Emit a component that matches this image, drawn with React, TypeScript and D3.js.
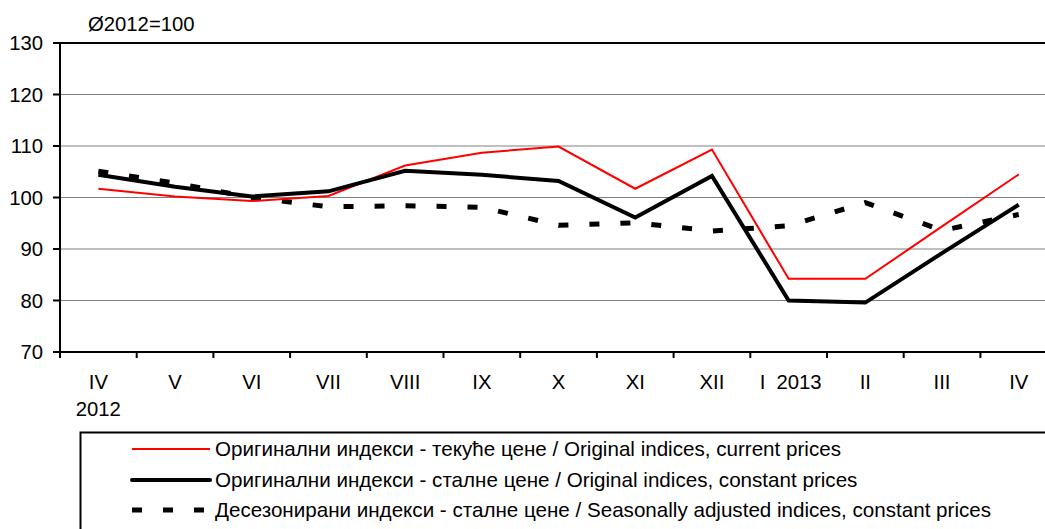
import React from "react";
import * as d3 from "d3";

const categories = ["IV", "V", "VI", "VII", "VIII", "IX", "X", "XI", "XII", "I", "II", "III", "IV "];
const tickLabels = ["IV", "V", "VI", "VII", "VIII", "IX", "X", "XI", "XII", "I  2013", "II", "III", "IV"];
const currentPrices = [101.7, 100.2, 99.3, 100.3, 106.2, 108.7, 109.9, 101.7, 109.3, 84.2, 84.2, 94.4, 104.5];
const constantPrices = [104.4, 102.1, 100.2, 101.2, 105.2, 104.4, 103.2, 96.1, 104.2, 80.0, 79.6, 89.2, 98.6];
const seasAdjusted = [105.1, 102.8, 100.0, 98.2, 98.4, 98.1, 94.6, 95.1, 93.5, 94.5, 99.0, 93.6, 96.7];
const yTicks = [70, 80, 90, 100, 110, 120, 130];
const legendLabels = [
  "Оригинални индекси - текуће цене / Original indices, current prices",
  "Оригинални индекси - сталне цене / Original indices, constant prices",
  "Десезонирани индекси - сталне цене / Seasonally adjusted indices, constant prices",
];

export default function App() {
  const W = 1045, H = 529;
  const left = 60, step = 76.7;
  const x = d3.scaleBand<string>().domain(categories).range([left, left + step * categories.length]);
  const y = d3.scaleLinear().domain([70, 130]).range([352, 43]);
  const cx = (i: number) => (x(categories[i]) as number) + x.bandwidth() / 2;
  const line = d3.line<number>().x((_, i) => cx(i)).y((d) => y(d));
  const font = "'Liberation Sans', Arial, sans-serif";
  const right = left + step * categories.length;
  const fs = 20.3;
  const lfs = 20.6;

  return (
    <svg width={W} height={H} style={{ position: "absolute", left: 0, top: 0, background: "#fff" }} fontFamily={font}>
      <rect x={0} y={0} width={W} height={H} fill="#fff" />
      {yTicks.slice(1, -1).map((t) => (
        <line key={t} x1={left} x2={right} y1={y(t)} y2={y(t)} stroke="#808080" strokeWidth={1.2} />
      ))}
      <line x1={left} x2={right} y1={y(130)} y2={y(130)} stroke="#000" strokeWidth={2} />
      <line x1={left} x2={right} y1={y(70)} y2={y(70)} stroke="#000" strokeWidth={2} />
      <line x1={left} x2={left} y1={y(130)} y2={y(70)} stroke="#000" strokeWidth={2} />
      {yTicks.map((t) => (
        <g key={t}>
          <line x1={left - 7} x2={left} y1={y(t)} y2={y(t)} stroke="#000" strokeWidth={2} />
          <text x={43} y={y(t) + 7} textAnchor="end" fontSize={fs} fill="#000">{t}</text>
        </g>
      ))}
      {categories.map((c, i) => (
        <line key={"t" + i} x1={(x(c) as number)} x2={(x(c) as number)} y1={y(70)} y2={y(70) + 6} stroke="#000" strokeWidth={2} />
      ))}
      <line x1={right} x2={right} y1={y(70)} y2={y(70) + 6} stroke="#000" strokeWidth={2} />
      {tickLabels.map((l, i) => (
        <text key={"l" + i} x={cx(i) + (i === 9 ? 2 : 0)} y={389} textAnchor="middle" fontSize={fs} fill="#000" style={{ whiteSpace: "pre" }}>{l}</text>
      ))}
      <text x={cx(0)} y={416} textAnchor="middle" fontSize={fs} fill="#000">2012</text>
      <text x={88} y={31} fontSize={fs} fill="#000">Ø2012=100</text>

      <path d={line(seasAdjusted) || ""} fill="none" stroke="#000" strokeWidth={5} strokeDasharray="10,21" />
      <path d={line(currentPrices) || ""} fill="none" stroke="#ff0000" strokeWidth={2} />
      <path d={line(constantPrices) || ""} fill="none" stroke="#000" strokeWidth={4} />

      <rect x={80.5} y={432.5} width={1000} height={120} fill="none" stroke="#000" strokeWidth={2} />
      <line x1={132} x2={210} y1={449} y2={449} stroke="#ff0000" strokeWidth={2} />
      <line x1={132} x2={210} y1={480} y2={480} stroke="#000" strokeWidth={4} strokeLinecap="round" />
      <line x1={132} x2={210} y1={510} y2={510} stroke="#000" strokeWidth={5} strokeDasharray="10,21" />
      {legendLabels.map((l, i) => (
        <text key={"g" + i} x={215} y={456 + i * 30.5} fontSize={lfs} fill="#000">{l}</text>
      ))}
    </svg>
  );
}
